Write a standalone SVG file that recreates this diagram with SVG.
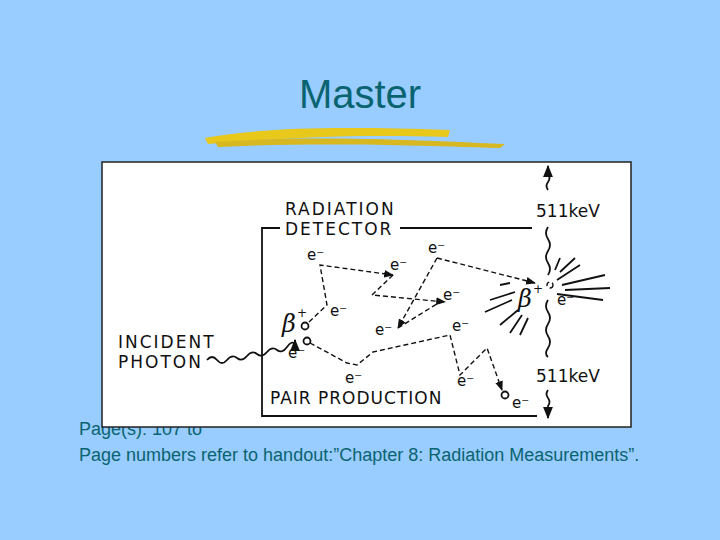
<svg xmlns="http://www.w3.org/2000/svg" width="720" height="540" viewBox="0 0 720 540">
<defs>
<style>
.t{font-family:"Liberation Sans",Arial,sans-serif;fill:#0a6470}
.d{font-family:"DejaVu Sans",sans-serif;fill:#111;font-size:17px;letter-spacing:2px}
.k{font-family:"DejaVu Sans",sans-serif;fill:#111;font-size:17px}
.e{font-family:"DejaVu Sans",sans-serif;fill:#111;font-size:15px}
.b{font-family:"DejaVu Serif",serif;fill:#111;font-size:24px;font-style:italic}
.p{font-family:"DejaVu Sans",sans-serif;fill:#111;font-size:12px}
.ln{stroke:#111;stroke-width:1.8;fill:none}
.ds{stroke:#111;stroke-width:1.4;fill:none;stroke-dasharray:5,3}
</style>
<marker id="ah" viewBox="0 0 10 10" refX="9" refY="5" markerWidth="7" markerHeight="7" orient="auto"><path d="M0,1 L10,5 L0,9 z" fill="#111"/></marker>
</defs>
<rect width="720" height="540" fill="#99ccff"/>
<text class="t" x="360" y="108" font-size="40" text-anchor="middle">Master</text>
<g id="brush">
<path d="M205,138 C260,128 330,126 450,130 L448,137 C350,134 280,138 208,144 Z" fill="#e8c81a"/>
<path d="M215,142 C300,136 380,138 505,144 L500,148 C380,144 300,143 218,147 Z" fill="#d8b820"/>
</g>
<text class="t" x="79" y="435" font-size="18">Page(s): 107 to</text>
<text class="t" x="79" y="461" font-size="18">Page numbers refer to handout:”Chapter 8: Radiation Measurements”.</text>
<g id="figure">
<rect x="102" y="162" width="529" height="265" fill="#fff" stroke="#222" stroke-width="1.5"/>
<g id="detector">
<path class="ln" d="M280,228 L262,228 L262,416 L537,416"/>
<path class="ln" d="M400,228 L532,228"/>
<text class="d" x="285" y="215">RADIATION</text>
<text class="d" x="285" y="235">DETECTOR</text>
<text class="d" x="270" y="404" style="letter-spacing:1px">PAIR PRODUCTION</text>
</g>
<g id="photon">
<text class="d" x="118" y="348">INCIDENT</text>
<text class="d" x="118" y="368">PHOTON</text>
</g>
<g id="labels">
<text class="k" x="536" y="217">511keV</text>
<text class="k" x="536" y="382">511keV</text>
<text class="b" x="282" y="332">β</text><text class="p" x="297" y="317">+</text>
<text class="b" x="518" y="307">β</text><text class="p" x="533" y="293">+</text>
<text class="e" x="307" y="260">e⁻</text>
<text class="e" x="390" y="270">e⁻</text>
<text class="e" x="428" y="253">e⁻</text>
<text class="e" x="443" y="300">e⁻</text>
<text class="e" x="330" y="316">e⁻</text>
<text class="e" x="375" y="335">e⁻</text>
<text class="e" x="452" y="331">e⁻</text>
<text class="e" x="288" y="358">e⁻</text>
<text class="e" x="345" y="383">e⁻</text>
<text class="e" x="457" y="386">e⁻</text>
<text class="e" x="512" y="408">e⁻</text>
<text class="e" x="557" y="305">e⁻</text>
</g>
<g id="connectors">
<path class="ln" d="M207,360 q5,-6 10,0 t10,0 t10,-2 t10,-2 t10,-2 t10,-2 t10,-2 t10,-3 t8,-3 L295,340" marker-end="url(#ah)"/>
<circle cx="305" cy="326" r="3.5" class="ln" stroke-width="1.3"/>
<circle cx="307" cy="341" r="3.5" class="ln" stroke-width="1.3"/>
<circle cx="505" cy="395" r="3.5" class="ln" stroke-width="1.3"/>
<circle cx="550" cy="285" r="3" class="ds" stroke-dasharray="2,2"/>
<path class="ds" d="M309,322 L327,305 L320,265 L393,275" marker-end="url(#ah)"/>
<path class="ds" d="M393,275 L372,295 L445,302" marker-end="url(#ah)"/>
<path class="ds" d="M437,258 L398,328" marker-end="url(#ah)"/>
<path class="ds" d="M398,328 L440,302"/>
<path class="ds" d="M437,258 L535,283" marker-end="url(#ah)"/>
<path class="ds" d="M310,343 L347,363 L357,365 L373,352 L450,335 L460,375 L487,348 L502,390" marker-end="url(#ah)"/>
<path class="ln" stroke-width="1.4" d="M548,190 q-3,-4 0,-8 t0,-8 L548,166" marker-end="url(#ah)"/>
<path class="ln" stroke-width="1.4" d="M548,227 q-4,6 0,12 t0,12 t0,12 t0,12"/>
<path class="ln" stroke-width="1.4" d="M548,300 q-4,6 0,12 t0,12 t0,12 t0,12 t0,9"/>
<path class="ln" stroke-width="1.4" d="M548,390 q-3,4 0,8 t0,8 L548,418" marker-end="url(#ah)"/>
<g class="ln" stroke-width="1.4">
<path d="M557,280 L580,265 M560,272 L575,258 M562,285 L605,275 M565,290 L610,288 M557,294 L603,300 M555,270 L560,258"/>
<path d="M515,292 L490,300 M512,300 L485,312 M518,310 L500,325 M522,315 L510,333 M528,318 L520,335 M510,283 L500,285"/>
</g>
</g>
</g>
</svg>
